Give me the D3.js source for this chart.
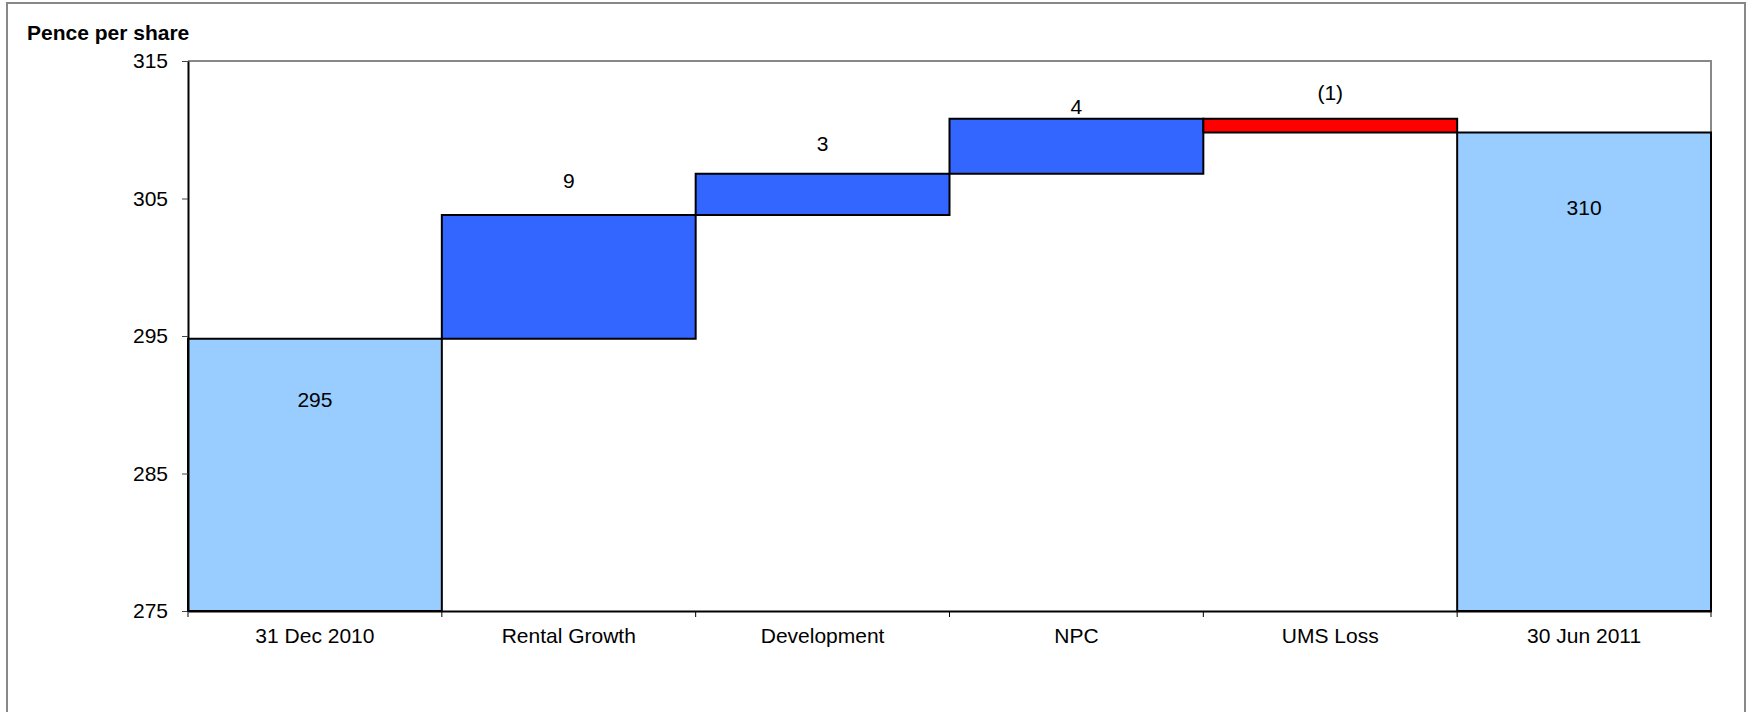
<!DOCTYPE html>
<html>
<head>
<meta charset="utf-8">
<script src="https://cdn.jsdelivr.net/npm/d3@7"></script>
<style>
  body { margin: 0; background: #fff; }
  svg text { font-family: "Liberation Sans", Arial, sans-serif; fill: #000; }
</style>
</head>
<body>
<div id="chart"></div>
<script>
// waterfall data, pence per share
const categories = ["31 Dec 2010", "Rental Growth", "Development", "NPC", "UMS Loss", "30 Jun 2011"];
const values = [294.8, 9.0, 3.0, 4.0, -1.0, 309.8];
const kinds = ["total", "step", "step", "step", "step", "total"];
const valueLabels = ["295", "9", "3", "4", "(1)", "310"];
const labelAt = [290.4, 306.3, 309.0, 311.7, 312.7, 304.3];
const yTicks = [275, 285, 295, 305, 315];

const width = 1747, height = 712;
const plot = { left: 188, right: 1711, top: 61, bottom: 611 };

const svg = d3.select("#chart")
  .append("svg")
  .attr("width", width)
  .attr("height", height);

// outer frame
svg.append("rect")
  .attr("x", 7).attr("y", 3)
  .attr("width", 1738).attr("height", 730)
  .attr("fill", "none")
  .attr("stroke", "#888")
  .attr("stroke-width", 2);

const x = d3.scaleBand()
  .domain(categories)
  .range([plot.left, plot.right])
  .padding(0);

const y = d3.scaleLinear()
  .domain([275, 315])
  .range([plot.bottom, plot.top]);

// build bar extents
let running = 0;
const bars = categories.map(function (c, i) {
  let lo, hi;
  if (kinds[i] === "total") {
    running = values[i];
    lo = y.domain()[0];
    hi = values[i];
  } else {
    const start = running;
    running = running + values[i];
    lo = Math.min(start, running);
    hi = Math.max(start, running);
  }
  return { cat: c, lo: lo, hi: hi, kind: kinds[i], delta: values[i], label: valueLabels[i], labelAt: labelAt[i] };
});

const fillFor = function (d) {
  if (d.kind === "total") return "#99CCFF";
  return d.delta >= 0 ? "#3366FF" : "#FF0000";
};

// plot area border (top / right in grey)
svg.append("path")
  .attr("d", "M" + plot.left + "," + plot.top + "H" + plot.right + "V" + plot.bottom)
  .attr("fill", "none")
  .attr("stroke", "#888")
  .attr("stroke-width", 2);

svg.append("g")
  .selectAll("rect")
  .data(bars)
  .enter()
  .append("rect")
  .attr("x", function (d) { return x(d.cat); })
  .attr("y", function (d) { return y(d.hi); })
  .attr("width", x.bandwidth())
  .attr("height", function (d) { return y(d.lo) - y(d.hi); })
  .attr("fill", fillFor)
  .attr("stroke", "#000")
  .attr("stroke-width", 2);

// value labels
svg.append("g")
  .selectAll("text")
  .data(bars)
  .enter()
  .append("text")
  .attr("x", function (d) { return x(d.cat) + x.bandwidth() / 2; })
  .attr("y", function (d) { return y(d.labelAt); })
  .attr("dy", "0.35em")
  .attr("text-anchor", "middle")
  .style("font-size", "21px")
  .text(function (d) { return d.label; });

// y axis
const yAxis = svg.append("g")
  .attr("transform", "translate(" + plot.left + ",0)")
  .call(d3.axisLeft(y).tickValues(yTicks).tickSize(6).tickPadding(14).tickSizeOuter(0));
yAxis.select(".domain").attr("stroke", "#000").attr("stroke-width", 2);
yAxis.selectAll(".tick line").attr("stroke", "#444");
yAxis.selectAll("text").style("font-size", "21px");

// x axis: labels at band centres, ticks at band edges
const xAxis = svg.append("g")
  .attr("transform", "translate(0," + plot.bottom + ")")
  .call(d3.axisBottom(x).tickSize(0).tickSizeOuter(0));
xAxis.select(".domain").attr("stroke", "#000").attr("stroke-width", 2);
xAxis.selectAll("text")
  .attr("y", 32)
  .attr("dy", 0)
  .style("font-size", "21px");

const edges = categories.map(function (c) { return x(c); }).concat([x(categories[categories.length - 1]) + x.bandwidth()]);
xAxis.selectAll(".edge")
  .data(edges)
  .enter()
  .append("line")
  .attr("class", "edge")
  .attr("x1", function (d) { return d; })
  .attr("x2", function (d) { return d; })
  .attr("y1", 0)
  .attr("y2", 6)
  .attr("stroke", "#000")
  .attr("stroke-width", 1);

// axis title
svg.append("text")
  .attr("x", 27)
  .attr("y", 40)
  .style("font-size", "21px")
  .style("font-weight", "bold")
  .text("Pence per share");
</script>
</body>
</html>
